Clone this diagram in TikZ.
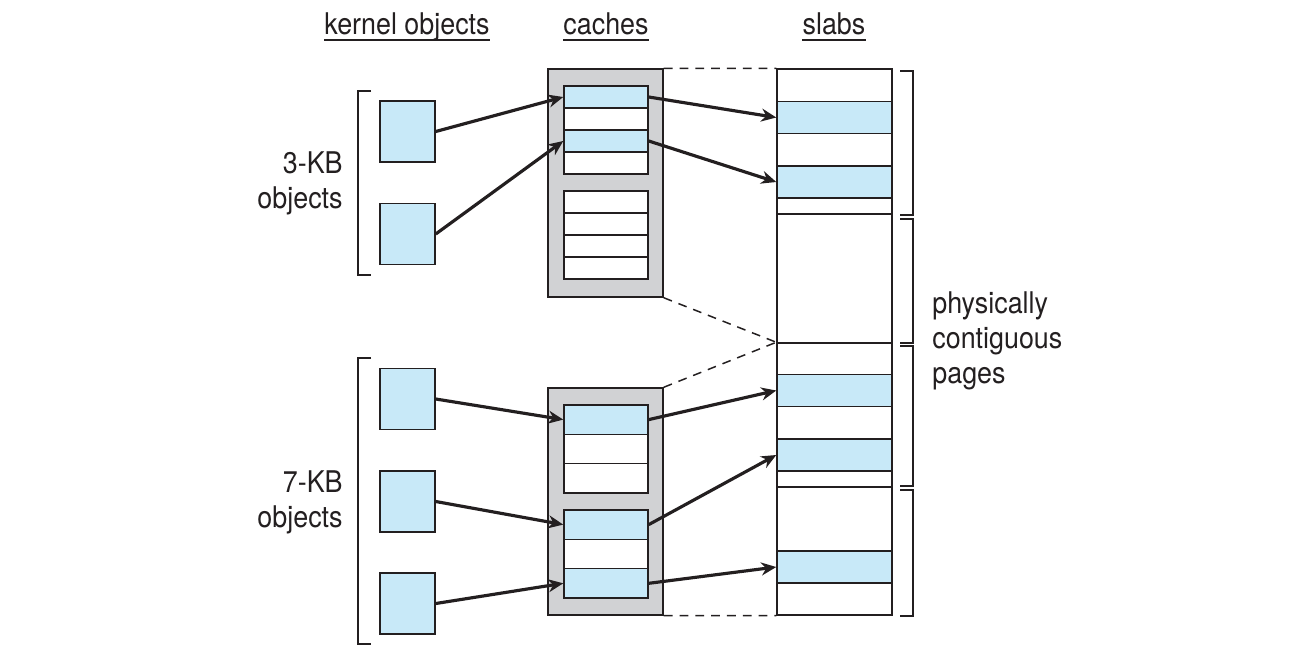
\documentclass[tikz,border=0pt]{standalone}
\usepackage{fontspec}
\setmainfont{TeX Gyre Heros}[FakeStretch=0.9]
\usetikzlibrary{arrows.meta}
\definecolor{objblue}{RGB}{200,233,248}
\definecolor{cachegray}{RGB}{209,210,212}
\definecolor{ink}{RGB}{35,31,32}
\tikzset{
  lbl/.style={inner sep=0pt, text=ink, font=\fontsize{17}{20}\selectfont},
  objbox/.style={draw=ink, fill=objblue, line width=0.85pt, inner sep=0pt, minimum width=1.1cm, minimum height=1.22cm},
  cachebox/.style={draw=ink, fill=cachegray, line width=0.85pt, inner sep=0pt, minimum width=2.3cm},
  uslot/.style={draw=ink, line width=0.85pt, inner sep=0pt, minimum width=1.68cm, minimum height=0.44cm},
  lslot/.style={draw=ink, line width=0.85pt, inner sep=0pt, minimum width=1.68cm, minimum height=0.586cm},
  slabbox/.style={draw=ink, fill=white, line width=0.85pt, inner sep=0pt, minimum width=2.3cm},
  slabrow/.style={draw=ink, fill=objblue, line width=0.85pt, inner sep=0pt, minimum width=2.3cm, minimum height=0.64cm},
  ptr/.style={draw=ink, line width=1.8pt, -{Stealth[length=0.3cm, width=0.26cm]}},
  gap/.style={draw=ink, line width=0.85pt, dash pattern=on 5pt off 4pt},
  brace/.style={draw=ink, line width=0.85pt}
}
\begin{document}
\begin{tikzpicture}[x=0.02cm, y=-0.02cm]
\useasboundingbox (0,0) rectangle (1298,653);

\node[lbl, anchor=base] (hkern) at (407,34) {kernel objects};
\node[lbl, anchor=base] (hcache) at (606,34) {caches};
\node[lbl, anchor=base] (hslab) at (834,34) {slabs};
\foreach \h in {hkern, hcache, hslab}
  \draw[brace] ([yshift=-3.4pt]\h.base west) -- ([yshift=-3.4pt]\h.base east);

\node[lbl, anchor=east, align=right] (kb3) at (343,183) {3-KB\\objects};
\node[lbl, anchor=east, align=right] (kb7) at (343,502) {7-KB\\objects};
\node[lbl, anchor=west, align=left] (pages) at (932,341) {physically\\contiguous\\pages};

\draw[brace] (371,91) -- (358,91) -- (358,275) -- (371,275);
\draw[brace] (371,358) -- (358,358) -- (358,644) -- (371,644);
\foreach \t/\b in {71/215, 219/343, 346/486, 490/616}
  \draw[brace] (900,\t) -- (913,\t) -- (913,\b) -- (900,\b);

\node[objbox] (o1) at (407.5,131.5) {};
\node[objbox] (o2) at (407.5,234) {};
\node[objbox] (o3) at (407.5,399) {};
\node[objbox] (o4) at (407.5,501.5) {};
\node[objbox] (o5) at (407.5,603.5) {};

\node[cachebox, minimum height=4.56cm] (ucache) at (605.5,183) {};
\node[cachebox, minimum height=4.54cm] (lcache) at (605.5,501.5) {};

\node[uslot, fill=objblue] (u1) at (606,97) {};
\node[uslot, fill=white] (u2) at (606,119) {};
\node[uslot, fill=objblue] (u3) at (606,141) {};
\node[uslot, fill=white] (u4) at (606,163) {};
\foreach \y [count=\i] in {202,224,246,268}
  \node[uslot, fill=white] (ue\i) at (606,\y) {};

\node[lslot, fill=objblue] (l1) at (606,419.6) {};
\node[lslot, fill=white] (l2) at (606,449) {};
\node[lslot, fill=white] (l3) at (606,478.3) {};
\node[lslot, fill=objblue] (l4) at (606,524.6) {};
\node[lslot, fill=white] (l5) at (606,554) {};
\node[lslot, fill=objblue] (l6) at (606,583.3) {};

\node[slabbox, minimum height=2.9cm] (slab1) at (834.5,141.5) {};
\node[slabbox, minimum height=2.58cm] (slab2) at (834.5,278.5) {};
\node[slabbox, minimum height=2.88cm] (slab3) at (834.5,415) {};
\node[slabbox, minimum height=2.56cm] (slab4) at (834.5,551) {};
\node[slabrow] (s1) at (834.5,117.5) {};
\node[slabrow] (s2) at (834.5,182) {};
\node[slabrow] (s3) at (834.5,390.5) {};
\node[slabrow] (s4) at (834.5,455) {};
\node[slabrow] (s5) at (834.5,567) {};

\draw[gap] (ucache.north east) -- (slab1.north west);
\draw[gap] (ucache.south east) -- (slab3.north west);
\draw[gap] (lcache.north east) -- (slab3.north west);
\draw[gap] (lcache.south east) -- (slab4.south west);

\draw[ptr] (o1.east) -- (u1.west);
\draw[ptr] (o2.east) -- (u3.west);
\draw[ptr] (u1.east) -- (s1.west);
\draw[ptr] (u3.east) -- (s2.west);
\draw[ptr] (o3.east) -- (l1.west);
\draw[ptr] (o4.east) -- (l4.west);
\draw[ptr] (o5.east) -- (l6.west);
\draw[ptr] (l1.east) -- (s3.west);
\draw[ptr] (l4.east) -- (s4.west);
\draw[ptr] (l6.east) -- (s5.west);
\end{tikzpicture}
\end{document}
